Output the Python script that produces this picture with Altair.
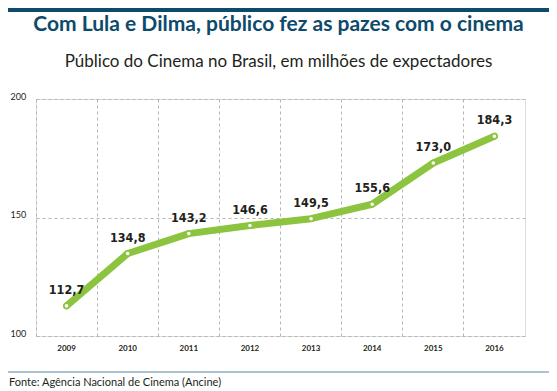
import altair as alt
import pandas as pd

years = ["2009", "2010", "2011", "2012", "2013", "2014", "2015", "2016"]
values = [112.7, 134.8, 143.2, 146.6, 149.5, 155.6, 173.0, 184.3]
labels = [f"{v:.1f}".replace(".", ",") for v in values]

title = "Com Lula e Dilma, público fez as pazes com o cinema"
subtitle = "Público do Cinema no Brasil, em milhões de expectadores"
source = "Fonte: Agência Nacional de Cinema (Ancine)"

df = pd.DataFrame({"ano": years, "publico": values, "rotulo": labels})

GREEN = "#8cc43f"
NAVY = "#0d4a6b"
NARROW = "DejaVu Sans Condensed, Liberation Sans Narrow, sans-serif"
BODY = "Lato, Open Sans, sans-serif"

x = alt.X("ano:N", title=None, sort=years,
          scale=alt.Scale(type="band", paddingInner=0, paddingOuter=0),
          axis=alt.Axis(labelAngle=0, bandPosition=0, ticks=False, domain=False,
                        grid=True, gridColor="#b5b5b5", gridDash=[3, 3], gridWidth=1,
                        labelFont=BODY, labelFontWeight="bold", labelFontSize=8,
                        labelColor="#231f20", labelPadding=8))
y = alt.Y("publico:Q", title=None,
          scale=alt.Scale(domain=[100, 200], nice=False, zero=False),
          axis=alt.Axis(values=[100, 150, 200], ticks=False, domain=False,
                        grid=True, gridColor="#b5b5b5", gridDash=[3, 3], gridWidth=1,
                        labelAlign="left", labelPadding=26, labelBaseline="alphabetic",
                        labelFont=BODY, labelFontSize=9, labelColor="#231f20"))

base = alt.Chart(df)

line = base.mark_line(color=GREEN, strokeWidth=7, strokeCap="round",
                      strokeJoin="round").encode(x=x, y=y)
pts = base.mark_point(filled=True, fill="white", stroke=GREEN, strokeWidth=1.5,
                      size=26, opacity=1).encode(x="ano:N", y="publico:Q")
txt = base.mark_text(font=NARROW, fontWeight="bold", fontSize=12.5, color="#231f20",
                     dy=-16).encode(x="ano:N", y="publico:Q", text="rotulo:N")

deco = alt.Chart(pd.DataFrame({"d": [0]}))
band_top = deco.mark_rule(color=NAVY, strokeWidth=4).encode(
    x=alt.value(-28), x2=alt.value(513), y=alt.value(-89))
t1 = deco.mark_text(font=BODY, fontWeight="bold", fontSize=21, color=NAVY,
                    align="center", baseline="middle").encode(
    x=alt.value(242.5), y=alt.value(-74), text=alt.value(title))
t2 = deco.mark_text(font=BODY, fontSize=17, color="#231f20",
                    align="center", baseline="middle").encode(
    x=alt.value(242.5), y=alt.value(-37), text=alt.value(subtitle))
sep = deco.mark_rule(color="#a9c3d3", strokeWidth=2).encode(
    x=alt.value(-28), x2=alt.value(513), y=alt.value(273))
foot = deco.mark_text(font=BODY, fontSize=11, color="#231f20",
                      align="left", baseline="middle").encode(
    x=alt.value(-27), y=alt.value(284), text=alt.value(source))

chart = alt.layer(line, pts, txt, band_top, t1, t2, sep, foot).properties(
    width=489, height=237,
    autosize=alt.AutoSizeParams(type="none"),
    padding={"left": 28, "top": 91, "right": 24, "bottom": 55},
).configure_view(stroke="#b5b5b5", strokeDash=[3, 3], strokeWidth=1
).configure(background="white")

chart.save("out.html", embed_options={"renderer": "svg", "actions": False})
